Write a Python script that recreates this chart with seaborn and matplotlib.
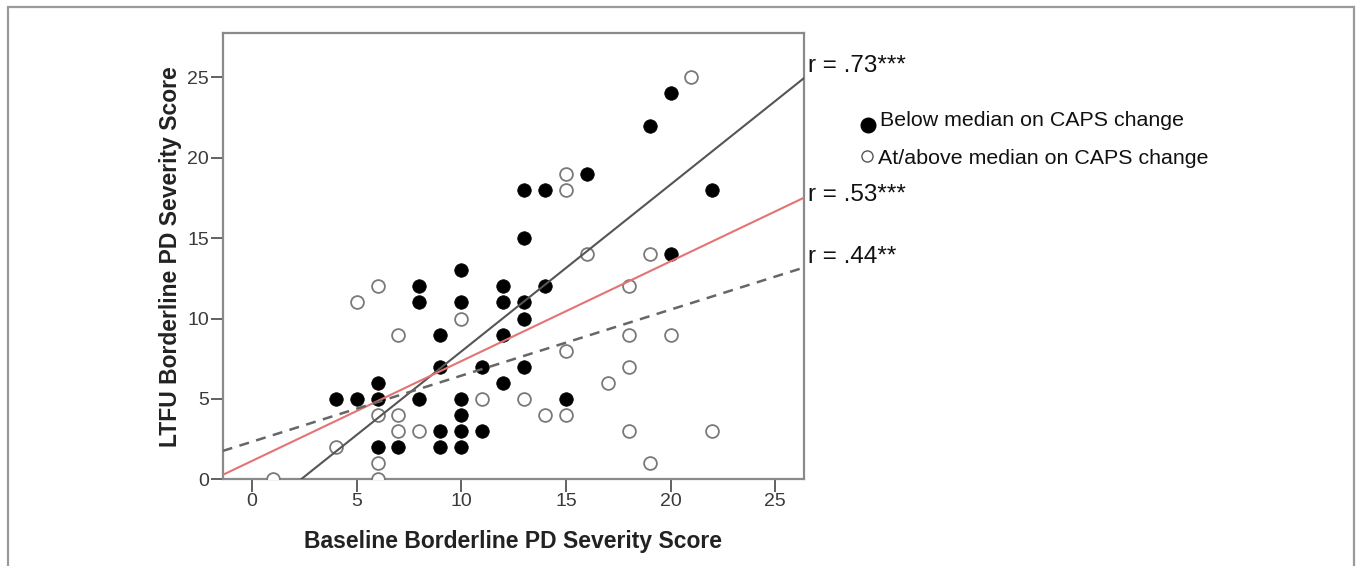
import matplotlib
matplotlib.use("Agg")
import matplotlib.pyplot as plt
from matplotlib.patches import Rectangle
from matplotlib.lines import Line2D
import seaborn as sns
import pandas as pd

# ---- data ----
below_x = [4, 5, 6, 6, 6, 7, 8, 8, 8, 9, 9, 9, 9, 10, 10, 10, 10, 10, 10,
           11, 11, 12, 12, 12, 12, 13, 13, 13, 13, 13, 14, 14, 15, 16, 19, 20, 20, 22]
below_y = [5, 5, 6, 5, 2, 2, 12, 11, 5, 9, 7, 3, 2, 13, 11, 5, 4, 3, 2,
           7, 3, 12, 11, 9, 6, 18, 15, 11, 10, 7, 18, 12, 5, 19, 22, 24, 14, 18]
above_x = [1, 4, 5, 6, 6, 6, 6, 7, 7, 7, 8, 10, 11, 13, 14, 15, 15, 15, 15,
           16, 17, 18, 18, 18, 18, 19, 19, 20, 21, 22]
above_y = [0, 2, 11, 12, 4, 1, 0, 9, 4, 3, 3, 10, 5, 5, 4, 19, 18, 8, 4,
           14, 6, 12, 9, 7, 3, 14, 1, 9, 25, 3]

group_labels = ["Below median on CAPS change", "At/above median on CAPS change"]
r_labels = ["r = .73***", "r = .53***", "r = .44**"]
x_ticks = [0, 5, 10, 15, 20, 25]
y_ticks = [0, 5, 10, 15, 20, 25]
x_label = "Baseline Borderline PD Severity Score"
y_label = "LTFU Borderline PD Severity Score"

below = pd.DataFrame({"x": below_x, "y": below_y})
above = pd.DataFrame({"x": above_x, "y": above_y})
both = pd.concat([below, above], ignore_index=True)

sns.set_theme(style="white")
plt.rcParams["font.family"] = ["Liberation Sans", "DejaVu Sans"]

W, H = 1359, 566
fig = plt.figure(figsize=(W / 100, H / 100), dpi=100)
ax = fig.add_axes([222.7 / W, 1 - 479.3 / H, (804.3 - 222.7) / W, (479.3 - 33.3) / H])
ax.set_xlim(-1.40, 26.39)
ax.set_ylim(0, 27.74)

# outer frame (open at the bottom)
fig.patches.append(Rectangle((8 / W, -0.1), (1354 - 8) / W, 1.1 - 7 / H,
                             transform=fig.transFigure, fill=False,
                             edgecolor="#9a9a9a", lw=1.6))

# points
sns.scatterplot(data=above, x="x", y="y", ax=ax, s=85, facecolor="white",
                edgecolor="#7a7a7a", linewidth=1.3, marker="o", zorder=3,
                legend=False)
sns.scatterplot(data=below, x="x", y="y", ax=ax, s=95, color="black",
                edgecolor="black", linewidth=0.5, marker="o", zorder=3,
                legend=False)

# fit lines across the whole axis
sns.regplot(data=below, x="x", y="y", ax=ax, scatter=False, ci=None,
            truncate=False, line_kws=dict(color="#555555", lw=1.5, zorder=4))
sns.regplot(data=both, x="x", y="y", ax=ax, scatter=False, ci=None,
            truncate=False, line_kws=dict(color="#e57373", lw=1.5, zorder=4))
sns.regplot(data=above, x="x", y="y", ax=ax, scatter=False, ci=None,
            truncate=False, line_kws=dict(color="#666666", lw=1.8, zorder=4,
                                          linestyle=(0, (4, 3))))
ax.set_xlim(-1.40, 26.39)
ax.set_ylim(0, 27.74)

# axes styling
for sp in ax.spines.values():
    sp.set_visible(True)
    sp.set_color("#8a8a8a")
    sp.set_linewidth(1.6)
ax.set_xticks(x_ticks)
ax.set_yticks(y_ticks)
ax.tick_params(axis="both", direction="out", length=9, width=1.3,
               color="#555555", labelsize=14, labelcolor="#3a3a3a",
               bottom=True, left=True, pad=1)
ax.set_xlabel(x_label, fontsize=16.5, fontweight="bold", color="#222222", labelpad=14)
ax.set_ylabel(y_label, fontsize=16.5, fontweight="bold", color="#222222", labelpad=4)

# r annotations
r_y = [25.7, 17.68, 13.8]
for lab, yy in zip(r_labels, r_y):
    ax.text(26.56, yy, lab, fontsize=17.5, color="#111111", va="center",
            ha="left", clip_on=False)

# legend
fig.add_artist(Line2D([868.3 / W], [1 - 125 / H], marker="o", markersize=10.5,
                      color="black", linestyle="none",
                      transform=fig.transFigure))
fig.add_artist(Line2D([866.7 / W], [1 - 156 / H], marker="o", markersize=8,
                      markerfacecolor="white", markeredgecolor="#555555",
                      markeredgewidth=1.0, linestyle="none",
                      transform=fig.transFigure))
fig.text(880 / W, 1 - 121 / H, group_labels[0], fontsize=15.4, color="#111111",
         va="center", ha="left")
fig.text(878 / W, 1 - 159 / H, group_labels[1], fontsize=15.4, color="#111111",
         va="center", ha="left")

fig.savefig("out.png", dpi=100)
